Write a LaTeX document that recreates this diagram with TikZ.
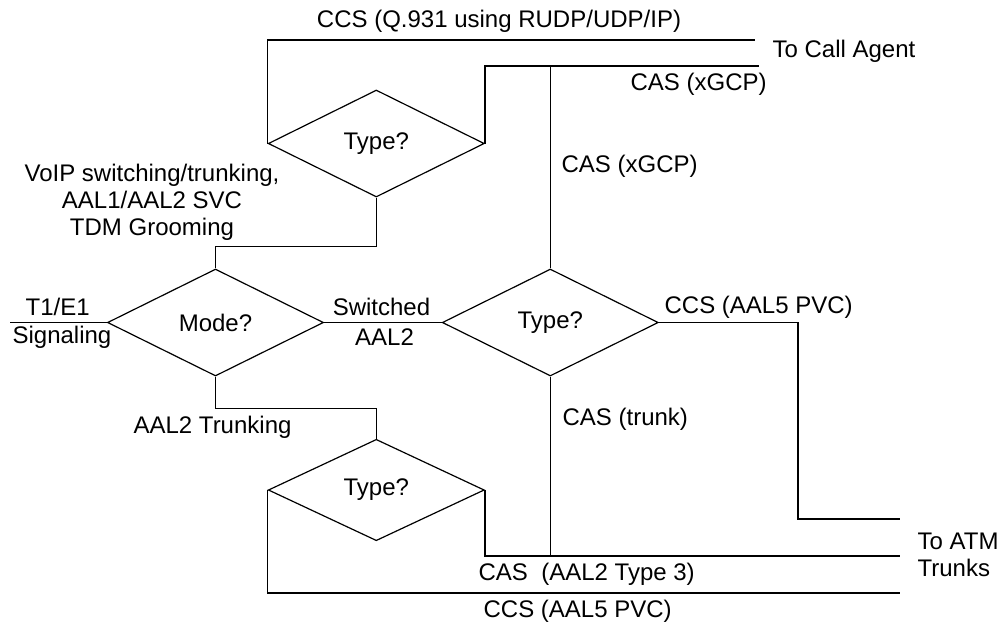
\documentclass[tikz,border=0pt]{standalone}
\usepackage{fontspec}
\setmainfont{Liberation Sans}
\usepackage{tikz}
\usetikzlibrary{shapes.geometric}

\begin{document}
\begin{tikzpicture}[x=0.5pt,y=-0.5pt,line width=0.6pt,
                every node/.style={font=\fontsize{12pt}{13.5pt}\selectfont},
                decision/.style={diamond,draw,inner sep=0pt,minimum width=108pt,minimum height=53.5pt},
                lbl/.style={inner sep=0pt,anchor=base west}]
                \useasboundingbox (0,0) rectangle (999,623);

                \node[decision] (type1) at (376.3,143.5) {Type?};
                \node[decision] (mode) at (215.5,322.5) {Mode?};
                \node[decision] (type2) at (550.3,322.5) {Type?};
                \node[decision,minimum height=50.7pt] (type3) at (376.3,490) {Type?};

                \coordinate (agent1) at (755,40);
                \coordinate (agent2) at (759,66);
                \coordinate (line) at (10,322.5);
                \coordinate (atm1) at (900,519);
                \coordinate (atm2) at (900,556);
                \coordinate (atm3) at (900,593);

                \draw (type1.west) |- (agent1);
                \draw (type1.east) |- (agent2);
                \draw (type2.north) -- (type2.north |- agent2);
                \draw (type1.south) -- ++(0,49) -| (mode.north);

                \draw (line) -- (mode.west);
                \draw (mode.east) -- (type2.west);
                \draw (type2.east) -- ++(139,0) |- (atm1);
                \draw (type2.south) -- (type2.south |- atm2);

                \draw (mode.south) -- ++(0,32) -| (type3.north);
                \draw (type3.east) |- (atm2);
                \draw (type3.west) |- (atm3);

                \node[lbl,anchor=base] (q931) at (499,27) {CCS (Q.931 using RUDP/UDP/IP)};
                \node[lbl] (agent) at (772,57) {To Call Agent};
                \node[lbl] (xgcp1) at (630,90) {CAS (xGCP)};
                \node[lbl] (xgcp2) at (561,172) {CAS (xGCP)};
                \node[lbl,anchor=north,align=center] (voip) at (152,163) {VoIP switching/trunking,\\AAL1/AAL2 SVC\\TDM Grooming};
                \node[lbl] (t1e1) at (25,315) {T1/E1};
                \node[lbl] (sig) at (12,343) {Signaling};
                \node[lbl,anchor=base] (sw) at (381.5,315) {Switched};
                \node[lbl,anchor=base] (aal2) at (384.5,345) {AAL2};
                \node[lbl] (pvc1) at (664,313) {CCS (AAL5 PVC)};
                \node[lbl] (trunk) at (562,425) {CAS (trunk)};
                \node[lbl] (aal2t) at (133,433) {AAL2 Trunking};
                \node[lbl] (type3cas) at (478,580) {CAS\ \ (AAL2 Type 3)};
                \node[lbl] (pvc2) at (483,617) {CCS (AAL5 PVC)};
                \node[lbl,anchor=north west,align=left] (atm) at (917,532) {To ATM\\Trunks};
            \end{tikzpicture}
\end{document}
